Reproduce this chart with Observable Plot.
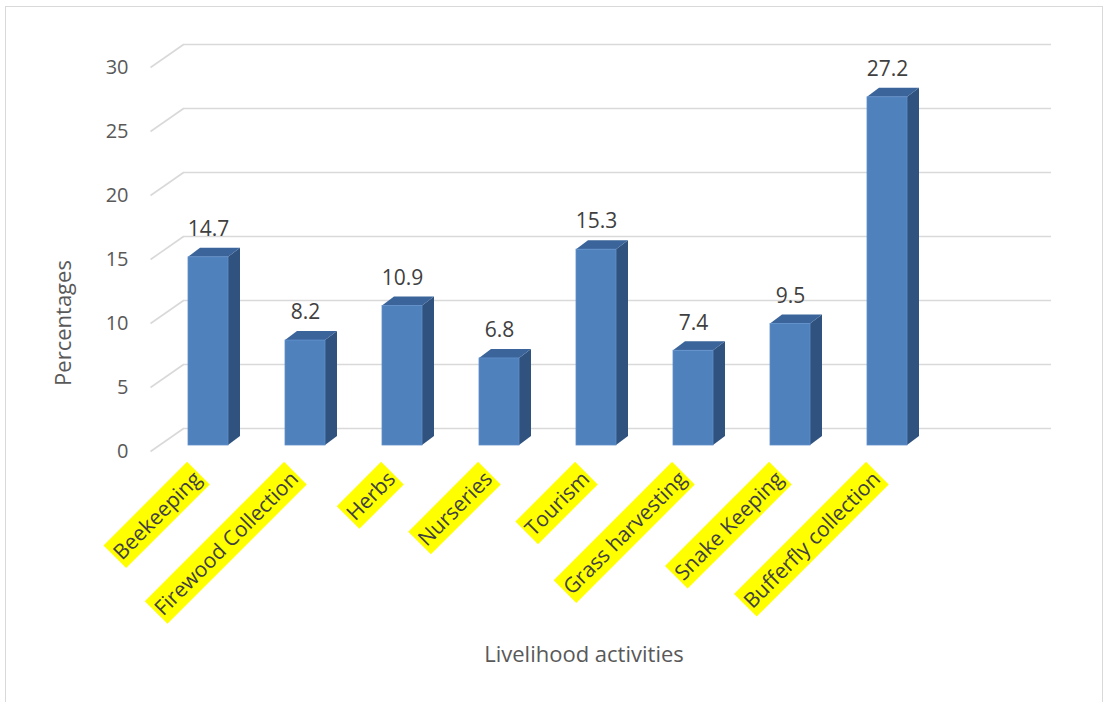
<!DOCTYPE html>
<html>
<head>
<meta charset="utf-8">
<script src="https://cdn.jsdelivr.net/npm/d3@7"></script>
<script src="https://cdn.jsdelivr.net/npm/@observablehq/plot@0.6"></script>
<style>
  html, body { margin: 0; padding: 0; background: #fff; overflow: hidden; }
  #frame { position: absolute; left: 5px; top: 6px; width: 1098px; height: 720px; border: 1.5px solid #d9d9d9; box-sizing: border-box; }
  #chart { position: absolute; left: 0; top: 0; }
  .title { position: absolute; font-family: "Open Sans", sans-serif; font-size: 22px; color: #595959; white-space: nowrap; }
</style>
</head>
<body>
<div id="frame"></div>
<div id="chart"></div>
<div class="title" id="xtitle" style="left:584px; top:653px; transform: translate(-50%,-50%);">Livelihood activities</div>
<div class="title" id="ytitle" style="left:62px; top:323px; transform: translate(-50%,-50%) rotate(-90deg);">Percentages</div>
<script>
// ---- data ----
const categories = ["Beekeeping", "Firewood Collection", "Herbs", "Nurseries", "Tourism", "Grass harvesting", "Snake Keeping", "Bufferfly collection"];
const values = [14.7, 8.2, 10.9, 6.8, 15.3, 7.4, 9.5, 27.2];
const yTicks = [0, 5, 10, 15, 20, 25, 30];

// ---- layout constants (pseudo-3D depth, expressed via pixel-per-unit of scales) ----
const PX_X = 97, PX_Y = 12.8;
const half = 20 / PX_X;
const depthX = 12 / PX_X, depthY = 9 / PX_Y;
const frontDX = -8.6 / PX_X, frontDY = -6 / PX_Y;
const backDX = 24.4 / PX_X, backDY = 17 / PX_Y;
const xL = -0.509, xR = 8.69;

const bars = categories.map((c, i) => ({i, c, v: values[i]}));
const topFaces = bars.flatMap(d => [
  {i: d.i, y: d.v, x1: d.i - half, x2: d.i + half},
  {i: d.i, y: d.v + depthY, x1: d.i - half + depthX, x2: d.i + half + depthX}
]);
const sideFaces = bars.flatMap(d => [
  {i: d.i, x: d.i + half, y1: 0, y2: d.v},
  {i: d.i, x: d.i + half + depthX, y1: depthY, y2: d.v + depthY}
]);

const grid = "#d9d9d9";
const chart = Plot.plot({
  width: 1106, height: 702, margin: 0,
  x: {type: "linear", domain: [0, 7], range: [208, 887], axis: null},
  y: {type: "linear", domain: [0, 30], range: [445, 61], axis: null},
  style: {fontFamily: "'Open Sans', sans-serif", background: "transparent", overflow: "visible"},
  marks: [
    // back wall gridlines
    Plot.ruleY(yTicks, {y: d => d + backDY, x1: xL + backDX, x2: xR, stroke: grid, strokeWidth: 1.6}),
    // slanted side wall edges
    Plot.link(yTicks, {x1: xL + frontDX, y1: d => d + frontDY, x2: xL + backDX, y2: d => d + backDY, stroke: grid, strokeWidth: 1.6}),
    // y tick labels
    Plot.text(yTicks, {x: xL + frontDX, y: d => d + frontDY, text: d => String(d), dx: -22, textAnchor: "end", fontSize: 20, fill: "#595959"}),
    // bar side faces
    Plot.areaY(sideFaces, {x: "x", y1: "y1", y2: "y2", z: "i", fill: "#30527F", curve: "linear"}),
    // bar top faces
    Plot.areaX(topFaces, {y: "y", x1: "x1", x2: "x2", z: "i", fill: "#3B649A", curve: "linear"}),
    // bar front faces
    Plot.rect(bars, {x1: d => d.i - half, x2: d => d.i + half, y1: 0, y2: "v", fill: "#4F81BD", stroke: "#6190CB", strokeWidth: 0.8}),
    // value labels
    Plot.text(bars, {x: "i", y: "v", text: d => d.v.toFixed(1), dy: -28, fontSize: 21, fill: "#404040"}),
    // category labels
    Plot.text(bars, {x: d => d.i + frontDX, y: frontDY, text: "c", dy: 24, dx: -2, rotate: -45, textAnchor: "end", fontSize: 21, fill: "#404040"})
  ]
});
document.getElementById("chart").appendChild(chart);

// yellow highlight behind category labels
const ns = "http://www.w3.org/2000/svg";
Array.from(chart.querySelectorAll("text"))
  .filter(t => categories.includes(t.textContent))
  .forEach(t => {
    const b = t.getBBox();
    const pad = 2;
    const r = document.createElementNS(ns, "rect");
    r.setAttribute("x", b.x - pad);
    r.setAttribute("y", b.y - pad);
    r.setAttribute("width", b.width + 2 * pad);
    r.setAttribute("height", b.height + 2 * pad);
    r.setAttribute("fill", "#FFFF00");
    const tr = t.getAttribute("transform");
    if (tr) r.setAttribute("transform", tr);
    t.parentNode.insertBefore(r, t);
  });
</script>
</body>
</html>
